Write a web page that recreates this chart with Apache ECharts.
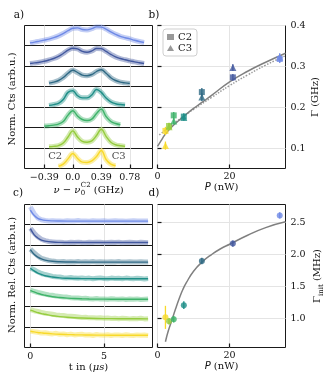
<!DOCTYPE html>
<html>
<head>
<meta charset="utf-8">
<script src="https://cdn.jsdelivr.net/npm/echarts@6/dist/echarts.min.js"></script>
<style>
  html, body { margin: 0; padding: 0; background: #fff; }
  #chart { width: 331px; height: 385px; }
</style>
</head>
<body>
<div id="chart"></div>
<script>
// row colours, top row (highest power) first
const rowColors = ['#6f8ae6', '#43599f', '#306a85', '#1f8f88', '#3fb36a', '#95cc3e', '#f8d92a'];

// panel a: detuning grid (GHz) and normalised spectra, one per row
const detuning = [-0.65, -0.585, -0.52, -0.455, -0.39, -0.325, -0.26, -0.195, -0.13, -0.065, 0, 0.065, 0.13,
  0.195, 0.26, 0.325, 0.39, 0.455, 0.52, 0.585, 0.65, 0.715, 0.78, 0.845, 0.91, 0.975, 1.04];
const spec1 = [null, 0.13, 0.17, 0.22, 0.27, 0.32, 0.39, 0.48, 0.60, 0.74, 0.86, 0.88, 0.80, 0.78, 0.84, 0.93, 0.92, 0.82, 0.68, 0.56, 0.46, 0.39, 0.33, 0.26, 0.20, 0.15, null];
const spec2 = [null, 0.14, 0.17, 0.20, 0.25, 0.31, 0.38, 0.48, 0.62, 0.78, 0.87, 0.84, 0.72, 0.68, 0.74, 0.86, 0.85, 0.72, 0.58, 0.46, 0.38, 0.32, 0.27, 0.22, 0.18, 0.14, null];
const spec3 = [null, null, null, null, null, 0.17, 0.22, 0.30, 0.45, 0.66, 0.81, 0.70, 0.57, 0.54, 0.60, 0.75, 0.84, 0.66, 0.44, 0.30, 0.22, 0.18, 0.15, null, null, null, null];
const spec4 = [null, null, null, null, null, 0.10, 0.14, 0.20, 0.38, 0.72, 0.80, 0.56, 0.46, 0.46, 0.60, 0.86, 0.72, 0.45, 0.27, 0.18, 0.14, 0.12, null, null, null, null, null];
const spec5 = [null, null, null, null, 0.07, 0.09, 0.12, 0.17, 0.30, 0.62, 0.84, 0.58, 0.40, 0.35, 0.42, 0.70, 0.92, 0.55, 0.30, 0.20, 0.14, null, null, null, null, null, null];
const spec6 = [null, null, null, null, null, 0.08, 0.10, 0.14, 0.26, 0.55, 0.84, 0.55, 0.34, 0.30, 0.36, 0.62, 0.92, 0.58, 0.30, 0.18, 0.13, 0.10, null, null, null, null, null];
const spec7 = [null, null, null, null, null, null, null, 0.11, 0.22, 0.48, 0.75, 0.50, 0.32, 0.30, 0.38, 0.60, 0.90, 0.45, 0.22, 0.14, null, null, null, null, null, null, null];
const spectra = [spec1, spec2, spec3, spec4, spec5, spec6, spec7];
const specTicks = [-0.39, 0, 0.39, 0.78];
const specTickLabels = ['\u22120.39', '0.0', '0.39', '0.78'];
const peakNames = [[-0.24, 0.58, 'C2'], [0.627, 0.58, 'C3']];

// panel c: time traces (µs)
const time = [0, 0.25, 0.5, 0.75, 1, 1.25, 1.5, 1.75, 2, 2.25, 2.5, 2.75, 3, 3.25, 3.5, 3.75, 4, 4.25, 4.5, 4.75,
  5, 5.25, 5.5, 5.75, 6, 6.25, 6.5, 6.75, 7, 7.25, 7.5, 7.75, 8];
const decay1 = [0.88, 0.55, 0.33, 0.24, 0.20, 0.18, 0.19, 0.17, 0.18, 0.16, 0.19, 0.17, 0.18, 0.20, 0.17, 0.18, 0.16, 0.19, 0.18, 0.17, 0.19, 0.16, 0.18, 0.19, 0.17, 0.18, 0.16, 0.18, 0.19, 0.17, 0.18, 0.17, 0.18];
const decay2 = [0.82, 0.60, 0.42, 0.30, 0.23, 0.19, 0.17, 0.15, 0.16, 0.14, 0.13, 0.15, 0.14, 0.16, 0.14, 0.13, 0.15, 0.14, 0.16, 0.15, 0.13, 0.14, 0.15, 0.14, 0.16, 0.13, 0.14, 0.15, 0.14, 0.13, 0.15, 0.14, 0.13];
const decay3 = [0.82, 0.64, 0.48, 0.36, 0.30, 0.25, 0.22, 0.20, 0.19, 0.20, 0.17, 0.19, 0.18, 0.20, 0.17, 0.19, 0.18, 0.20, 0.17, 0.19, 0.18, 0.17, 0.19, 0.18, 0.20, 0.17, 0.18, 0.19, 0.17, 0.18, 0.19, 0.17, 0.18];
const decay4 = [0.88, 0.80, 0.70, 0.62, 0.57, 0.53, 0.48, 0.46, 0.45, 0.42, 0.41, 0.43, 0.40, 0.39, 0.41, 0.38, 0.40, 0.37, 0.39, 0.41, 0.38, 0.37, 0.40, 0.38, 0.39, 0.37, 0.40, 0.38, 0.37, 0.39, 0.38, 0.36, 0.38];
const decay5 = [0.82, 0.76, 0.70, 0.66, 0.62, 0.58, 0.56, 0.52, 0.50, 0.48, 0.47, 0.44, 0.43, 0.42, 0.40, 0.41, 0.39, 0.38, 0.40, 0.37, 0.38, 0.36, 0.39, 0.37, 0.36, 0.38, 0.35, 0.37, 0.36, 0.38, 0.35, 0.36, 0.37];
const decay6 = [0.85, 0.80, 0.76, 0.72, 0.68, 0.66, 0.63, 0.60, 0.58, 0.57, 0.54, 0.53, 0.52, 0.50, 0.48, 0.49, 0.46, 0.47, 0.45, 0.46, 0.44, 0.45, 0.43, 0.44, 0.42, 0.44, 0.43, 0.41, 0.43, 0.42, 0.44, 0.41, 0.42];
const decay7 = [0.82, 0.79, 0.76, 0.72, 0.74, 0.70, 0.68, 0.71, 0.66, 0.68, 0.64, 0.67, 0.63, 0.65, 0.66, 0.62, 0.64, 0.60, 0.65, 0.62, 0.61, 0.64, 0.60, 0.63, 0.62, 0.60, 0.64, 0.61, 0.60, 0.63, 0.61, 0.62, 0.60];
const decays = [decay1, decay2, decay3, decay4, decay5, decay6, decay7];
const timeFit = [0, 0.25, 0.5, 0.75, 1, 1.5, 2, 2.5, 3, 3.5, 4, 5, 6, 7, 8];
const decayFit1 = [0.72, 0.46, 0.31, 0.24, 0.205, 0.18, 0.172, 0.17, 0.17, 0.17, 0.17, 0.17, 0.17, 0.17, 0.17];
const decayFit2 = [0.80, 0.52, 0.36, 0.26, 0.21, 0.165, 0.148, 0.143, 0.14, 0.14, 0.14, 0.14, 0.14, 0.14, 0.14];
const decayFit3 = [0.79, 0.56, 0.42, 0.33, 0.27, 0.21, 0.186, 0.176, 0.172, 0.17, 0.17, 0.17, 0.17, 0.17, 0.17];
const decayFit4 = [0.87, 0.74, 0.64, 0.57, 0.51, 0.45, 0.41, 0.392, 0.382, 0.376, 0.373, 0.371, 0.37, 0.37, 0.37];
const decayFit5 = [0.81, 0.73, 0.66, 0.60, 0.56, 0.49, 0.45, 0.42, 0.397, 0.384, 0.376, 0.367, 0.363, 0.361, 0.36];
const decayFit6 = [0.83, 0.77, 0.71, 0.66, 0.63, 0.56, 0.52, 0.49, 0.467, 0.45, 0.44, 0.425, 0.418, 0.414, 0.412];
const decayFit7 = [0.81, 0.78, 0.75, 0.73, 0.71, 0.68, 0.66, 0.647, 0.637, 0.63, 0.625, 0.618, 0.614, 0.612, 0.611];
const decayFits = [decayFit1, decayFit2, decayFit3, decayFit4, decayFit5, decayFit6, decayFit7];
const timeTicks = [0, 5];

// panels b and d: power series (nW), ascending power = bottom row upwards
const power = [2.2, 3.2, 4.5, 7.3, 12.3, 20.9, 33.9];
const widthC2 = [0.142, 0.154, 0.180, 0.177, 0.237, 0.273, 0.318];
const widthC3 = [0.106, 0.152, 0.166, 0.175, 0.225, 0.297, 0.322];
const widthErr = [0.010, 0.008, 0.008, 0.008, 0.010, 0.008, 0.010];
const fitPower = [0, 1, 2, 4, 6, 8, 10, 12.5, 15, 20, 25, 30, 35.5];
const widthFit = [0.104, 0.118, 0.132, 0.152, 0.168, 0.183, 0.197, 0.213, 0.229, 0.262, 0.288, 0.310, 0.332];
const dotPower = [0.5, 1, 2, 4, 7, 10, 15, 20, 25, 30, 35.5];
const widthDot = [0.132, 0.136, 0.143, 0.157, 0.176, 0.195, 0.224, 0.253, 0.279, 0.303, 0.326];
const widthTicks = [0.1, 0.2, 0.3, 0.4];
const initRate = [1.02, 0.96, 0.99, 1.21, 1.90, 2.17, 2.61];
const initErr = [0.18, 0.05, 0.05, 0.06, 0.05, 0.05, 0.05];
const initFitPower = [2.2, 3, 4, 5, 6, 7, 8, 10, 12.5, 15, 17.5, 20, 25, 30, 35.5];
const initFit = [0.64, 0.81, 0.98, 1.15, 1.31, 1.45, 1.56, 1.74, 1.89, 2.00, 2.09, 2.16, 2.30, 2.42, 2.51];
const initTicks = [1.0, 1.5, 2.0, 2.5];
const powerTicks = [0, 20];

const SERIF = '"DejaVu Serif", serif';
const INK = '#111';
const FRAME = '#1a1a1a';
const GRIDC = '#e4e4e4';
const powerColors = rowColors.slice().reverse();

// row layout (half-pixel offsets keep the frames crisp)
const rowTopsA = [25.5, 45.5, 66.5, 86.5, 107.5, 127.5, 148.5, 168.5];
const rowTopsC = [204.5, 224.5, 245.5, 265.5, 286.5, 306.5, 327.5, 347.5];

const grids = [], xAxes = [], yAxes = [], series = [];

function frameGrid(left, top, width, height) {
  grids.push({left, top, width, height, show: true, borderColor: FRAME, borderWidth: 1,
    backgroundColor: 'transparent', containLabel: false, outerBoundsMode: 'none'});
  return grids.length - 1;
}

function stackAxis(gi, min, max, ticks, labels, bottom, name) {
  xAxes.push({
    gridIndex: gi, type: 'value', min, max,
    axisLine: {show: false},
    axisTick: {show: bottom, inside: true, length: 4, customValues: ticks, lineStyle: {color: FRAME, width: 1.2}},
    axisLabel: {show: bottom, customValues: ticks, margin: 4, fontFamily: SERIF, fontSize: 9.5, color: INK,
      formatter: v => labels[ticks.findIndex(t => Math.abs(t - v) < 1e-6)]},
    splitLine: {show: true, lineStyle: {color: GRIDC, width: 1}},
    name: bottom ? name : '', nameLocation: 'middle', nameGap: 14,
    nameTextStyle: {fontFamily: SERIF, fontSize: 10, color: INK,
      rich: {i: {fontFamily: SERIF, fontStyle: 'italic', fontSize: 10, color: INK}}}
  });
  yAxes.push({gridIndex: gi, type: 'value', min: 0, max: 1, show: false});
}

// panel a rows
for (let r = 0; r < 7; r++) {
  const gi = frameGrid(24.5, rowTopsA[r], 128, rowTopsA[r + 1] - rowTopsA[r]);
  stackAxis(gi, -0.66, 1.09, specTicks, specTickLabels, r === 6, '');
  const pts = detuning.map((x, k) => [x, spectra[r][k]]);
  series.push({type: 'line', xAxisIndex: gi, yAxisIndex: gi, data: pts, smooth: 0.4, showSymbol: false,
    silent: true, z: 2, lineStyle: {color: rowColors[r], width: 5, opacity: 0.42}});
  series.push({type: 'line', xAxisIndex: gi, yAxisIndex: gi, data: pts, smooth: 0.4, showSymbol: false,
    silent: true, z: 3, lineStyle: {color: rowColors[r], width: 1.4}});
  if (r === 6) {
    series.push({type: 'scatter', xAxisIndex: gi, yAxisIndex: gi, data: peakNames, symbolSize: 1, silent: true, z: 5,
      itemStyle: {color: 'transparent'},
      label: {show: true, position: 'inside', formatter: p => p.value[2], fontFamily: SERIF, fontSize: 10, color: INK}});
  }
}

// panel c rows
for (let r = 0; r < 7; r++) {
  const gi = frameGrid(24.5, rowTopsC[r], 128, rowTopsC[r + 1] - rowTopsC[r]);
  stackAxis(gi, -0.4, 8.3, timeTicks, ['0', '5'], r === 6, 't in ({i|\u03bcs})');
  series.push({type: 'line', xAxisIndex: gi, yAxisIndex: gi, data: time.map((t, k) => [t, decays[r][k]]),
    showSymbol: false, silent: true, z: 2, lineStyle: {color: rowColors[r], width: 5, opacity: 0.4, join: 'round'}});
  series.push({type: 'line', xAxisIndex: gi, yAxisIndex: gi, data: timeFit.map((t, k) => [t, decayFits[r][k]]),
    smooth: 0.4, showSymbol: false, silent: true, z: 3, lineStyle: {color: rowColors[r], width: 1.4}});
}

function powerAxes(gi, ymin, ymax, yticks, yname) {
  xAxes.push({
    gridIndex: gi, type: 'value', min: 0, max: 35.5,
    axisLine: {show: false},
    axisTick: {show: true, inside: true, length: 4, customValues: powerTicks, lineStyle: {color: FRAME, width: 1.2}},
    axisLabel: {customValues: powerTicks, margin: 3.5, fontFamily: SERIF, fontSize: 9.5, color: INK},
    splitLine: {show: true, lineStyle: {color: GRIDC, width: 1}},
    name: '{i|P} (nW)', nameLocation: 'middle', nameGap: 14,
    nameTextStyle: {fontFamily: SERIF, fontSize: 10, color: INK,
      rich: {i: {fontFamily: '"DejaVu Sans", sans-serif', fontStyle: 'italic', fontSize: 10, color: INK}}}
  });
  yAxes.push({
    gridIndex: gi, type: 'value', position: 'right', min: ymin, max: ymax,
    axisLine: {show: false},
    axisTick: {show: true, inside: false, length: 4, customValues: yticks, lineStyle: {color: FRAME, width: 1.2}},
    axisLabel: {customValues: yticks, margin: 5, fontFamily: SERIF, fontSize: 9.5, color: INK,
      formatter: v => v.toFixed(1)},
    splitLine: {show: true, lineStyle: {color: GRIDC, width: 1}},
    name: yname, nameLocation: 'middle', nameRotate: 90, nameGap: 25,
    nameTextStyle: {fontFamily: SERIF, fontSize: 10, color: INK,
      rich: {a: {fontFamily: SERIF, fontSize: 10, color: INK, lineHeight: 14},
             s: {fontFamily: SERIF, fontSize: 7, color: INK, lineHeight: 14, verticalAlign: 'bottom', padding: [4, 0, 0, 0]}}}
  });
}

function errorBars(gi, xs, ys, errs) {
  return {
    type: 'custom', xAxisIndex: gi, yAxisIndex: gi, silent: true, z: 4,
    data: xs.map((x, k) => [x, ys[k], errs[k], k]),
    renderItem: (params, api) => {
      const x = api.value(0), y = api.value(1), e = api.value(2), k = api.value(3);
      const a = api.coord([x, y - e]), b = api.coord([x, y + e]);
      return {type: 'line', shape: {x1: a[0], y1: a[1], x2: b[0], y2: b[1]},
        style: {stroke: powerColors[k], lineWidth: 1.3}};
    }
  };
}

// panel b
const gb = frameGrid(157.5, 25.5, 128, 143);
powerAxes(gb, 0.05, 0.4, widthTicks, '\u0393 (GHz)');
series.push({type: 'line', xAxisIndex: gb, yAxisIndex: gb, data: dotPower.map((p, k) => [p, widthDot[k]]),
  smooth: true, showSymbol: false, silent: true, z: 2, lineStyle: {color: '#9a9a9a', width: 1.5, type: 'dotted'}});
series.push({type: 'line', xAxisIndex: gb, yAxisIndex: gb, data: fitPower.map((p, k) => [p, widthFit[k]]),
  smooth: true, showSymbol: false, silent: true, z: 2, lineStyle: {color: '#808080', width: 1.5}});
series.push(errorBars(gb, power, widthC2, widthErr));
series.push(errorBars(gb, power, widthC3, widthErr));
series.push({name: 'C2', type: 'scatter', xAxisIndex: gb, yAxisIndex: gb, symbol: 'rect', symbolSize: 6, z: 5,
  itemStyle: {color: '#808080'},
  data: power.map((p, k) => ({value: [p, widthC2[k]], itemStyle: {color: powerColors[k]}}))});
series.push({name: 'C3', type: 'scatter', xAxisIndex: gb, yAxisIndex: gb, symbol: 'triangle', symbolSize: 7, z: 5,
  itemStyle: {color: '#808080'},
  data: power.map((p, k) => ({value: [p, widthC3[k]], itemStyle: {color: powerColors[k]}}))});

// panel d
const gd = frameGrid(157.5, 204.5, 128, 143);
powerAxes(gd, 0.55, 2.78, initTicks, '{a|\u0393}{s|init}{a| (MHz)}');
series.push({type: 'line', xAxisIndex: gd, yAxisIndex: gd, data: initFitPower.map((p, k) => [p, initFit[k]]),
  smooth: true, showSymbol: false, silent: true, z: 2, lineStyle: {color: '#808080', width: 1.5}});
series.push(errorBars(gd, power, initRate, initErr));
series.push({type: 'scatter', xAxisIndex: gd, yAxisIndex: gd, symbol: 'circle', symbolSize: 6, z: 5,
  data: power.map((p, k) => ({value: [p, initRate[k]], itemStyle: {color: powerColors[k]}}))});

// text: panel letters, stacked y titles and the detuning label with stacked sub/superscript
const ctx = document.createElement('canvas').getContext('2d');
function tw(t, font) { ctx.font = font; return ctx.measureText(t).width; }
const F = '10px "DejaVu Serif"', FI = 'italic 10px "DejaVu Serif"', FS = '7px "DejaVu Serif"';
const pieces = [['\u03bd', FI], [' \u2212 ', F], ['\u03bd', FI], null, [' (GHz)', F]];
const stackW = Math.max(tw('C2', FS), tw('0', FS)) + 0.5;
let total = 0;
pieces.forEach(p => { total += p ? tw(p[0], p[1]) : stackW; });
const graphics = [];
let cx = 88.5 - total / 2;
const cy = 190;
pieces.forEach(p => {
  if (p) {
    graphics.push({type: 'text', x: cx, y: cy, style: {text: p[0], font: p[1], fill: INK, textAlign: 'left', textVerticalAlign: 'middle'}});
    cx += tw(p[0], p[1]);
  } else {
    graphics.push({type: 'text', x: cx + 0.5, y: cy - 4.5, style: {text: 'C2', font: FS, fill: INK, textAlign: 'left', textVerticalAlign: 'middle'}});
    graphics.push({type: 'text', x: cx + 0.5, y: cy + 3, style: {text: '0', font: FS, fill: INK, textAlign: 'left', textVerticalAlign: 'middle'}});
    cx += stackW;
  }
});
[['a)', 19, 15], ['b)', 154, 15], ['c)', 18, 193], ['d)', 154, 193]].forEach(([t, x, y]) => {
  graphics.push({type: 'text', x, y, style: {text: t, font: '10.5px "DejaVu Serif"', fill: INK, textAlign: 'center', textVerticalAlign: 'middle'}});
});
[['Norm. Cts (arb.u.)', 99], ['Norm. Rel. Cts (arb.u.)', 275]].forEach(([t, y]) => {
  graphics.push({type: 'text', x: 12, y, rotation: Math.PI / 2,
    style: {text: t, font: F, fill: INK, textAlign: 'center', textVerticalAlign: 'middle'}});
});

const chart = echarts.init(document.getElementById('chart'), null, {renderer: 'canvas'});
chart.setOption({
  animation: false,
  backgroundColor: '#fff',
  grid: grids,
  xAxis: xAxes,
  yAxis: yAxes,
  legend: {
    left: 163, top: 29, orient: 'vertical', itemWidth: 7, itemHeight: 6, itemGap: 1,
    padding: [3, 5, 3, 4], backgroundColor: '#fff', borderColor: '#cfcfcf', borderWidth: 1, borderRadius: 3,
    textStyle: {fontFamily: SERIF, fontSize: 10, color: INK, padding: [0, 0, 0, -1]},
    data: [{name: 'C2', icon: 'rect'}, {name: 'C3', icon: 'triangle'}]
  },
  graphic: graphics,
  series
});
</script>
</body>
</html>
